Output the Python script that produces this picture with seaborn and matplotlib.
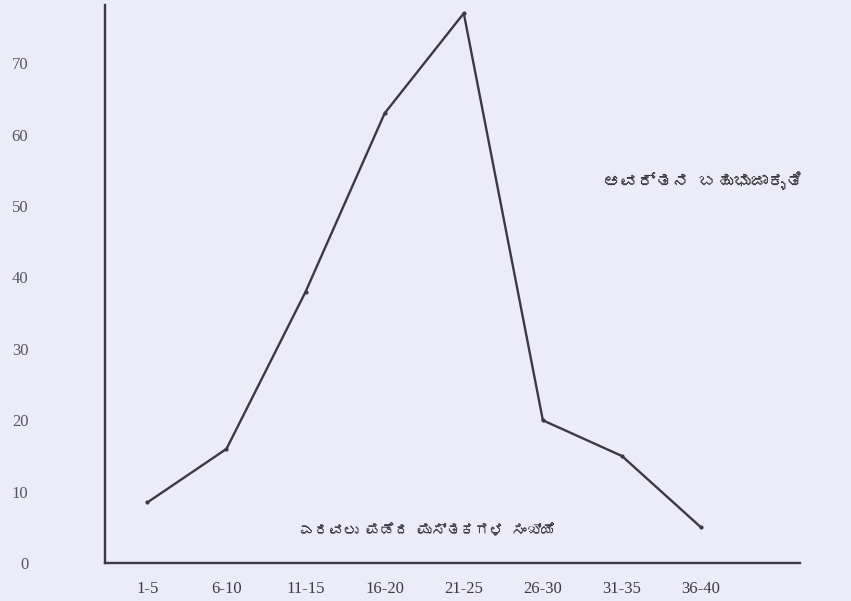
import matplotlib
matplotlib.use("Agg")
import matplotlib.pyplot as plt
import seaborn as sns
from matplotlib import font_manager
from matplotlib.ft2font import FT2Font

# ---------------- datos ----------------
clases = ["1-5", "6-10", "11-15", "16-20", "21-25", "26-30", "31-35", "36-40"]
frecuencia = [8.5, 16, 38, 63, 77, 20, 15, 5]
y_ticks = [0, 10, 20, 30, 40, 50, 60, 70]
titulo = "ಆವರ್ತನ ಬಹುಭುಜಾಕೃತಿ"
etiqueta_x = "ಎರವಲು ಪಡೆದ ಪುಸ್ತಕಗಳ ಸಂಖ್ಯೆ"


# busca una fuente que tenga glifos kannada
def fuente_kannada():
    for f in font_manager.fontManager.ttflist:
        try:
            if 0x0C95 in FT2Font(f.fname).get_charmap():
                return f.name
        except Exception:
            pass
    return "DejaVu Sans"


kn = fuente_kannada()

sns.set_style("white")
plt.rcParams["font.family"] = ["Liberation Serif", "DejaVu Serif"]

fondo = "#ECEBF8"
tinta = "#3a3a40"

fig = plt.figure(figsize=(8.51, 6.01), dpi=100, facecolor=fondo)
ax = fig.add_axes([0.123, 0.063, 0.817, 0.928], facecolor=fondo)

sns.lineplot(x=clases, y=frecuencia, sort=False, color=tinta, linewidth=1.7,
             marker="o", markersize=3, markeredgewidth=0, ax=ax)

ax.set_xlim(-0.54, 8.25)
ax.set_ylim(0, 78.1)
ax.set_yticks(y_ticks)
ax.tick_params(axis="y", length=0, pad=55, labelsize=12, labelcolor="#55555c")
ax.tick_params(axis="x", length=0, pad=13, labelsize=12, labelcolor="#3a3a40")

for lado in ["top", "right"]:
    ax.spines[lado].set_visible(False)
for lado in ["left", "bottom"]:
    ax.spines[lado].set_color(tinta)
    ax.spines[lado].set_linewidth(1.7)

ax.set_xlabel("")
ax.set_ylabel("")

ax.text(0.86, 0.685, titulo, transform=ax.transAxes, ha="center", va="center",
        fontsize=12.5, color=tinta, family=[kn, "DejaVu Sans"])
ax.text(0.465, 0.058, etiqueta_x, transform=ax.transAxes, ha="center", va="center",
        fontsize=10.5, color=tinta, family=[kn, "DejaVu Sans"])

fig.savefig("out.png", dpi=100, facecolor=fondo)
